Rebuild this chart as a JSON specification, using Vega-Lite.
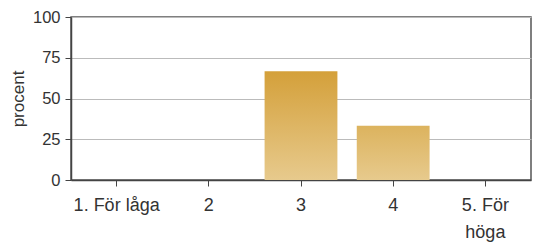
{
  "$schema": "https://vega.github.io/schema/vega-lite/v6.json",
  "autosize": "none",
  "width": 460,
  "height": 163,
  "padding": {"left": 71, "top": 17, "right": 2, "bottom": 63},
  "background": "white",
  "config": {
    "font": "Liberation Sans",
    "view": {"stroke": "#555555", "strokeWidth": 1.5},
    "axis": {"labelFont": "Liberation Sans", "titleFont": "Liberation Sans", "labelColor": "#333333", "titleColor": "#333333", "domainColor": "#444444", "tickColor": "#444444", "domainWidth": 1.5}
  },
  "data": {
    "values": [
      {"kategori": "1. För låga", "procent": 0},
      {"kategori": "2", "procent": 0},
      {"kategori": "3", "procent": 66.7},
      {"kategori": "4", "procent": 33.3},
      {"kategori": "5. För höga", "procent": 0}
    ]
  },
  "mark": {"type": "bar"},
  "encoding": {
    "x": {
      "field": "kategori", "type": "nominal", "sort": null,
      "scale": {"paddingInner": 0.21, "paddingOuter": 0.1},
      "axis": {
        "title": null, "labelAngle": 0, "tickSize": 6, "labelPadding": 10,
        "labelFontSize": 18, "labelLineHeight": 27,
        "labelExpr": "datum.label == '5. För höga' ? ['5. För', 'höga'] : datum.label"
      }
    },
    "y": {
      "field": "procent", "type": "quantitative",
      "scale": {"domain": [0, 100]},
      "axis": {
        "title": "procent", "titleFontSize": 17, "titleFontWeight": "normal", "titlePadding": 5,
        "values": [0, 25, 50, 75, 100], "tickSize": 6, "labelPadding": 5,
        "gridColor": "#BBBBBB", "labelFontSize": 16.5
      }
    },
    "color": {
      "condition": {
        "test": "datum.kategori == '4'",
        "value": {
          "gradient": "linear", "x1": 0, "y1": 0, "x2": 0, "y2": 1,
          "stops": [{"offset": 0, "color": "#DCB35E"}, {"offset": 1, "color": "#E7CA8D"}]
        }
      },
      "value": {
        "gradient": "linear", "x1": 0, "y1": 0, "x2": 0, "y2": 1,
        "stops": [{"offset": 0, "color": "#D4A03A"}, {"offset": 1, "color": "#E7CA8D"}]
      }
    }
  }
}
